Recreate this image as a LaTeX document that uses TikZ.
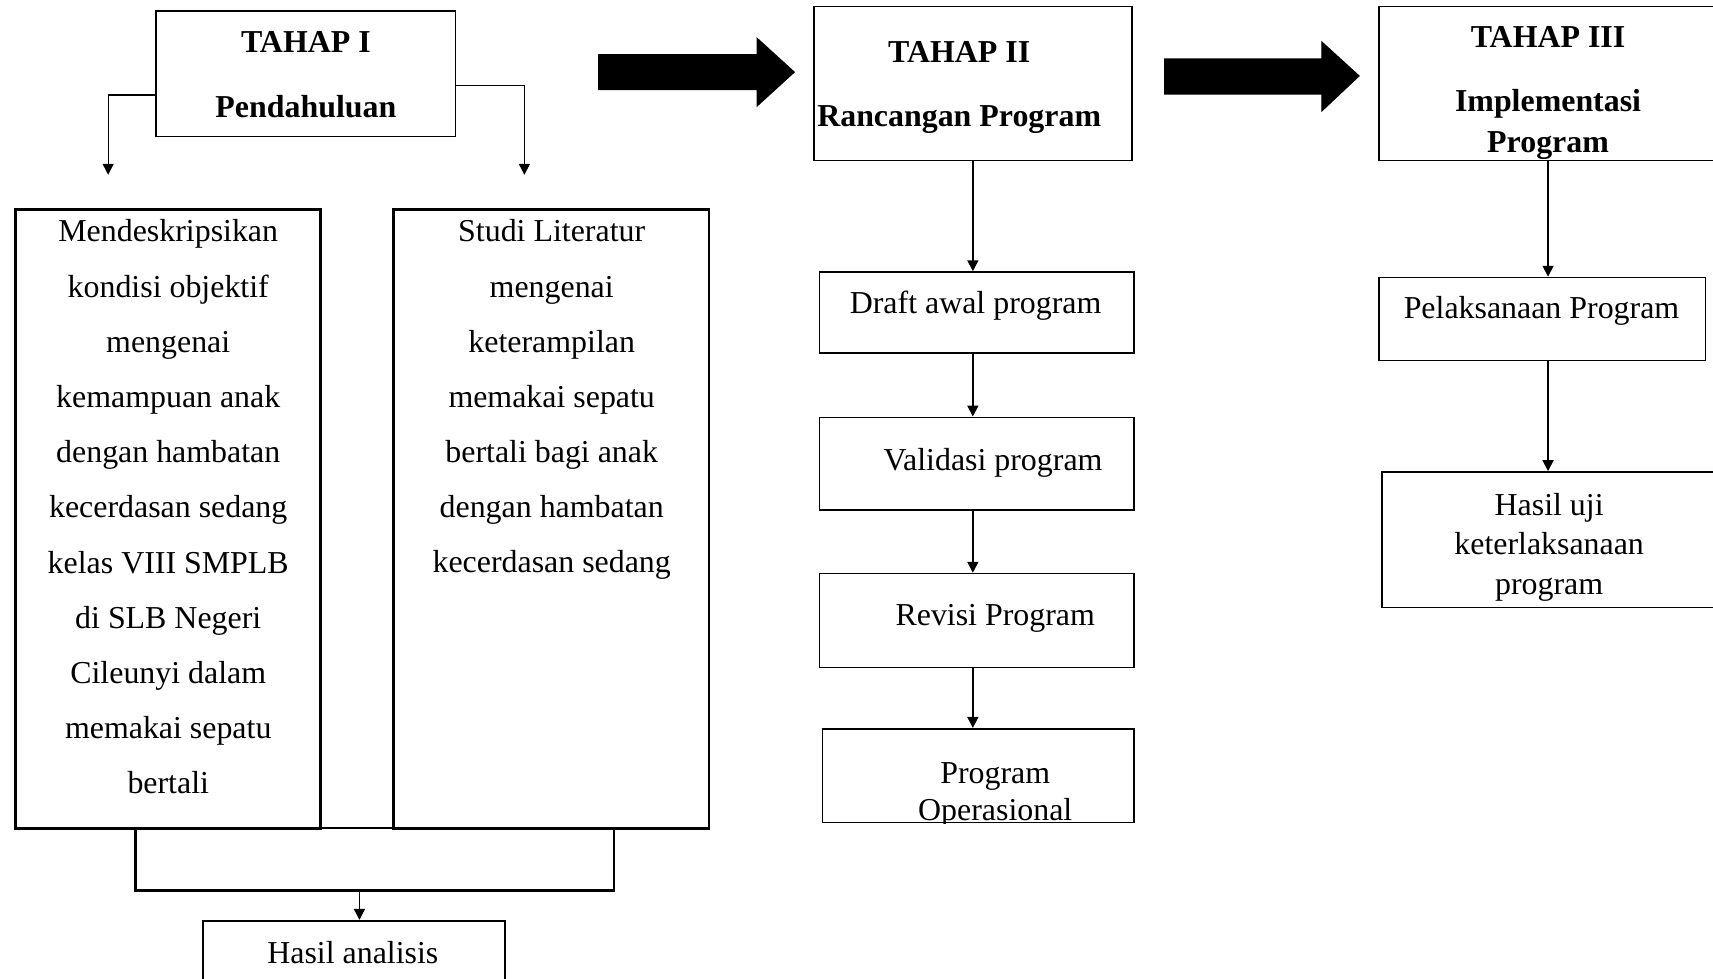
\documentclass[tikz,border=0pt]{standalone}
\usepackage{fontspec}
\setmainfont{Liberation Serif}
\usetikzlibrary{positioning,arrows.meta}

\begin{document}
\begin{tikzpicture}[x=0.5pt,y=-0.5pt,>={Triangle[width=5pt,length=5pt]},
  every node/.style={font=\fontsize{14.6}{18.5}\selectfont},
  box/.style={draw,rectangle,line width=0.75pt,inner sep=0pt},
  tallbox/.style={box,line width=1.3pt},
  lbl/.style={align=center,inner sep=0pt},
  head/.style={lbl,font=\fontsize{14.6}{29.5}\selectfont\bfseries},
  link/.style={->,line width=0.8pt},
  thinlink/.style={->,line width=0.6pt},
  bigarrow/.style={fill=black,draw=black,line width=0.5pt,line join=miter}]
  \useasboundingbox (0,0) rectangle (1568,896);
  \clip (0,0) rectangle (1568,896);

  % Tahap I (left)
  \node[box,minimum width=137pt,minimum height=57.5pt] (tahap1) at (280,67.5) {};
  \node[head] (tahap1-t) at (280,68.5) {TAHAP I\\Pendahuluan};

  \node[tallbox,minimum width=139.5pt,minimum height=283pt] (desc) at (153.5,475) {};
  \node[lbl,font=\fontsize{14.6}{25.25}\selectfont] (desc-t) at (154,464)
    {Mendeskripsikan\\kondisi objektif\\mengenai\\kemampuan anak\\dengan hambatan\\kecerdasan sedang\\kelas VIII SMPLB\\di SLB Negeri\\Cileunyi dalam\\memakai sepatu\\bertali};

  \node[tallbox,minimum width=144.5pt,minimum height=283pt] (studi) at (504.5,475) {};
  \node[lbl,font=\fontsize{14.6}{25.25}\selectfont] (studi-t) at (505,366)
    {Studi Literatur\\mengenai\\keterampilan\\memakai sepatu\\bertali bagi anak\\dengan hambatan\\kecerdasan sedang};

  \node[box,line width=1.2pt,minimum width=219pt,minimum height=28.5pt] (merge) at (343,786.5) {};
  \node[box,line width=1pt,minimum width=138pt,minimum height=33.5pt] (hasil) at (324,876.5) {};
  \node[lbl] (hasil-t) at (323,872) {Hasil analisis};

  \coordinate (l-end) at (99,160);
  \coordinate (r-end) at (480,160);
  \draw[thinlink] ([yshift=-9.75pt]tahap1.west) -| (l-end);
  \draw[thinlink] ([yshift=-5.25pt]tahap1.east) -| (r-end);
  \draw[thinlink] ([xshift=2.5pt]merge.south -| hasil.north) -- ([xshift=2.5pt]hasil.north);

  % Big arrows between stages
  \fill[bigarrow] (548,50) -- (693,50) -- (693,35) -- (727,66) -- (693,97) -- (693,82) -- (548,82) -- cycle;
  \fill[bigarrow] (1066,54) -- (1210,54) -- (1210,38.5) -- (1244,69.5) -- (1210,101.5) -- (1210,86) -- (1066,86) -- cycle;

  % Tahap II (center)
  \node[box,minimum width=145.5pt,minimum height=70.5pt] (tahap2) at (890.5,76.5) {};
  \node[head] (tahap2-t) at (878,80) {TAHAP II\\Rancangan Program};

  \node[box,minimum width=144pt,minimum height=37pt] (draft) at (894,286) {};
  \node[lbl] (draft-t) at (893,280) {Draft awal program};
  \node[box,minimum width=144pt,minimum height=42.5pt] (valid) at (894,424.5) {};
  \node[lbl] (valid-t) at (909,424) {Validasi program};
  \node[box,minimum width=144pt,minimum height=43pt] (revisi) at (894,568) {};
  \node[lbl] (revisi-t) at (911,566) {Revisi Program};
  \node[box,minimum width=142.5pt,minimum height=43pt] (opera) at (895.5,710) {};
  \begin{scope}
    \clip (opera.south west) rectangle (opera.north east);
    \node[lbl,font=\fontsize{14.6}{17}\selectfont] (opera-t) at (911,728) {Program\\Operasional};
  \end{scope}

  \draw[link] (tahap2.south) -- (tahap2.south |- draft.north);
  \draw[link] (draft.south -| tahap2.south) -- (valid.north -| tahap2.south);
  \draw[link] (valid.south -| tahap2.south) -- (revisi.north -| tahap2.south);
  \draw[link] (revisi.south -| tahap2.south) -- (opera.north -| tahap2.south);

  % Tahap III (right)
  \node[box,minimum width=155pt,minimum height=70.5pt] (tahap3) at (1417,76.5) {};
  \node[head,font=\fontsize{14.6}{18.5}\selectfont\bfseries] (tahap3-t) at (1417,85)
    {TAHAP III\\[11pt]Implementasi\\Program};

  \node[box,minimum width=149.5pt,minimum height=38pt] (pelaks) at (1411.5,292) {};
  \node[lbl] (pelaks-t) at (1411,285) {Pelaksanaan Program};
  \node[box,minimum width=153.5pt,minimum height=62pt] (hasiluji) at (1418.5,494) {};
  \node[lbl,font=\fontsize{14.6}{18.25}\selectfont] (hasiluji-t) at (1418,501)
    {Hasil uji\\keterlaksanaan\\program};

  \draw[link] (tahap3.south) -- (tahap3.south |- pelaks.north);
  \draw[link] (pelaks.south -| tahap3.south) -- (hasiluji.north -| tahap3.south);
\end{tikzpicture}
\end{document}
